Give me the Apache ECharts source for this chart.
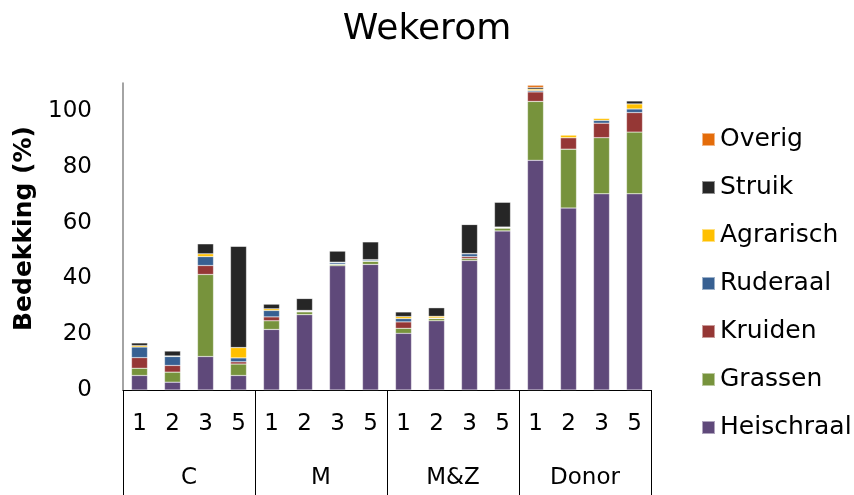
<!DOCTYPE html>
<html lang="nl">
  <head>
    <meta charset="UTF-8" />
    <title>Wekerom</title>
    <script src="https://cdn.jsdelivr.net/npm/echarts@6/dist/echarts.min.js"></script>
    <style>
      html, body { margin: 0; padding: 0; background: #fff; }
      #chart { width: 854px; height: 495px; }
    </style>
  </head>
  <body>
    <div id="chart"></div>
    <script>
      // categorieen: 4 groepen x 4 plots
      var groups = ["C", "M", "M&Z", "Donor"];
      var plots = ["1", "2", "3", "5"];
      var categories = [];
      groups.forEach(function (g) {
        plots.forEach(function (p) { categories.push(p); });
      });

      // bedekking (%) per soortgroep, volgorde: C1..C5, M1..M5, M&Z1..M&Z5, Donor1..Donor5
      var heischraal = [5.2, 2.8, 12.0, 5.2, 21.7, 27.0, 44.5, 45.0, 20.3, 24.8, 46.4, 57.0, 82.3, 65.2, 70.3, 70.3];
      var grassen = [2.6, 3.6, 29.4, 4.1, 3.1, 1.0, 0.5, 1.1, 1.8, 0.8, 0.7, 1.0, 21.1, 21.1, 20.1, 22.1];
      var kruiden = [3.8, 2.4, 3.2, 0.8, 1.4, 0.2, 0.1, 0.1, 2.3, 0.1, 0.7, 0.1, 3.4, 4.1, 5.2, 7.0];
      var ruderaal = [3.8, 3.2, 3.2, 1.4, 2.3, 0.2, 0.6, 0.4, 1.2, 0.1, 1.0, 0.2, 0.5, 0, 1.0, 1.3];
      var agrarisch = [0.5, 0.2, 1.0, 3.7, 0.6, 0.1, 0.1, 0.1, 0.7, 0.6, 0.1, 0.1, 0.5, 1.0, 0.8, 1.8];
      var struik = [1.0, 1.8, 3.6, 36.3, 1.7, 4.3, 4.0, 6.4, 1.7, 3.1, 10.4, 8.9, 0.6, 0, 0, 1.1];
      var overig = [0, 0, 0, 0, 0, 0, 0, 0, 0, 0, 0, 0, 0.8, 0, 0, 0];

      var yTicks = [0, 20, 40, 60, 80, 100];

      var seriesDefs = [
        { name: "Heischraal", data: heischraal, color: "#5F497A" },
        { name: "Grassen", data: grassen, color: "#77933C" },
        { name: "Kruiden", data: kruiden, color: "#953735" },
        { name: "Ruderaal", data: ruderaal, color: "#376092" },
        { name: "Agrarisch", data: agrarisch, color: "#FFC000" },
        { name: "Struik", data: struik, color: "#262626" },
        { name: "Overig", data: overig, color: "#E46C0A" }
      ];

      var font = "DejaVu Sans";
      var chart = echarts.init(document.getElementById("chart"));

      var option = {
        animation: false,
        title: {
          text: "Wekerom",
          left: "center",
          top: 7,
          textStyle: { fontFamily: font, fontSize: 36, fontWeight: "normal", color: "#000" }
        },
        legend: {
          orient: "vertical",
          left: 696,
          top: 122,
          itemWidth: 13,
          itemHeight: 13,
          itemGap: 23,
          icon: "rect",
          data: seriesDefs.map(function (s) { return s.name; }).reverse(),
          textStyle: { fontFamily: font, fontSize: 25, color: "#000" }
        },
        grid: { left: 123, right: 203, top: 83, bottom: 105 },
        xAxis: [
          {
            type: "category",
            data: categories,
            axisLine: { lineStyle: { color: "#000", width: 1 } },
            axisTick: { show: false },
            axisLabel: { interval: 0, margin: 23, fontFamily: font, fontSize: 23, color: "#000" }
          },
          {
            type: "category",
            data: groups,
            position: "bottom",
            axisLine: { show: false },
            axisTick: { show: true, interval: 0, length: 105, lineStyle: { color: "#000", width: 1 } },
            axisLabel: { interval: 0, margin: 77, fontFamily: font, fontSize: 23, color: "#000" }
          }
        ],
        yAxis: {
          type: "value",
          min: yTicks[0],
          max: 110,
          interval: 20,
          name: "Bedekking (%)",
          nameLocation: "middle",
          nameGap: 85,
          nameTextStyle: { fontFamily: font, fontSize: 25, fontWeight: "bold", color: "#000", padding: [0, 0, 0, 16] },
          axisLine: { show: true, lineStyle: { color: "#868686", width: 1.5 } },
          axisTick: { show: false },
          splitLine: { show: false },
          axisLabel: {
            showMaxLabel: false,
            margin: 31,
            fontFamily: font,
            fontSize: 23,
            color: "#000"
          }
        },
        series: seriesDefs.map(function (s) {
          return {
            name: s.name,
            type: "bar",
            stack: "totaal",
            xAxisIndex: 0,
            barWidth: 16,
            data: s.data,
            itemStyle: { color: s.color, borderColor: "rgba(255,255,255,0.5)", borderWidth: 0.5 }
          };
        })
      };

      chart.setOption(option);
    </script>
  </body>
</html>
